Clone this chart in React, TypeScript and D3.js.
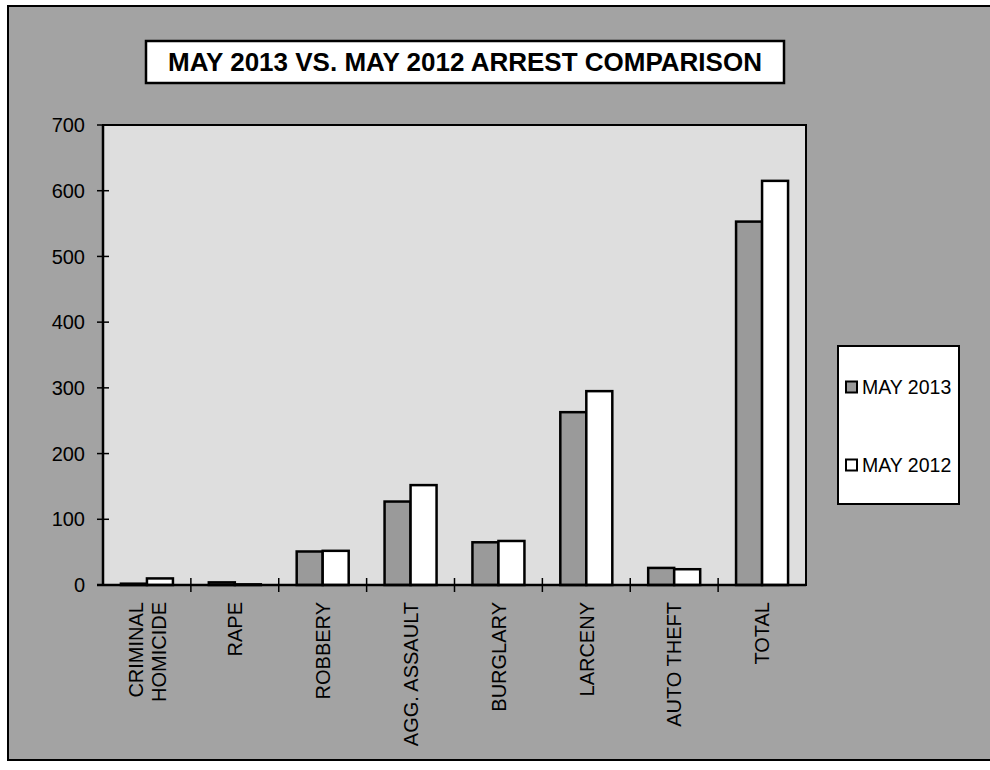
import React from "react";
import * as d3 from "d3";

const categories = ["CRIMINAL HOMICIDE", "RAPE", "ROBBERY", "AGG. ASSAULT", "BURGLARY", "LARCENY", "AUTO THEFT", "TOTAL"];
const may2013 = [2, 4, 51, 127, 65, 263, 26, 553];
const may2012 = [10, 1, 52, 152, 67, 295, 24, 615];
const seriesNames = ["MAY 2013", "MAY 2012"];
const yTicks = [0, 100, 200, 300, 400, 500, 600, 700];
const title = "MAY 2013 VS. MAY 2012 ARREST COMPARISON";

const FONT = "'Liberation Sans', Arial, sans-serif";
const OUTER_BG = "#a3a3a3";
const PLOT_BG = "#dedede";
const DARK = "#9a9a9a";

export default function App() {
  const left = 103, right = 806, top = 125, bottom = 585;
  const x = d3.scaleBand<string>().domain(categories).range([left, right]).padding(0);
  const y = d3.scaleLinear().domain([0, 700]).range([bottom, top]);
  const barW = 26;

  const labelLines = (c: string) => (c === "CRIMINAL HOMICIDE" ? ["CRIMINAL", "HOMICIDE"] : [c]);

  return (
    <svg width={990} height={770} style={{ position: "absolute", left: 0, top: 0, background: "#fff" }}>
      <rect x={8} y={6} width={985} height={754} fill={OUTER_BG} stroke="#000" strokeWidth={2} />
      {/* title */}
      <rect x={146} y={41} width={638} height={42} fill="#fff" stroke="#000" strokeWidth={2.5} />
      <text x={465} y={71} textAnchor="middle" fontFamily={FONT} fontWeight="bold" fontSize={26} fill="#000">
        {title}
      </text>
      {/* plot area */}
      <rect x={left} y={top} width={right - left} height={bottom - top} fill={PLOT_BG} stroke="#000" strokeWidth={2} />
      {/* bars */}
      {categories.map((c, i) => {
        const cx = (x(c) as number) + x.bandwidth() / 2;
        return (
          <g key={c}>
            <rect x={cx - barW} y={y(may2013[i])} width={barW} height={bottom - y(may2013[i])} fill={DARK} stroke="#000" strokeWidth={2.5} />
            <rect x={cx} y={y(may2012[i])} width={barW} height={bottom - y(may2012[i])} fill="#fff" stroke="#000" strokeWidth={2.5} />
          </g>
        );
      })}
      {/* axes */}
      <line x1={left} x2={left} y1={top} y2={bottom} stroke="#000" strokeWidth={2.5} />
      <line x1={left - 6} x2={right} y1={bottom} y2={bottom} stroke="#000" strokeWidth={2.5} />
      {yTicks.map((t) => (
        <g key={t}>
          <line x1={left - 6} x2={left + 6} y1={y(t)} y2={y(t)} stroke="#000" strokeWidth={1.5} />
          <text x={85} y={y(t)} dy="0.36em" textAnchor="end" fontFamily={FONT} fontSize={20} fill="#000">
            {t}
          </text>
        </g>
      ))}
      {categories.map((c, i) => {
        const bx = (x(c) as number) + x.bandwidth();
        return i < categories.length - 1 ? (
          <line key={"t" + c} x1={bx} x2={bx} y1={bottom - 7} y2={bottom + 7} stroke="#000" strokeWidth={1.5} />
        ) : null;
      })}
      {/* x labels */}
      {categories.map((c) => {
        const cx = (x(c) as number) + x.bandwidth() / 2;
        const lines = labelLines(c);
        const spacing = 23;
        return lines.map((ln, j) => {
          const lx = cx + (j - (lines.length - 1) / 2) * spacing;
          return (
            <text
              key={c + j}
              transform={`translate(${lx},602) rotate(-90)`}
              dy="0.36em"
              textAnchor="end"
              fontFamily={FONT}
              fontSize={20}
              fill="#000"
            >
              {ln}
            </text>
          );
        });
      })}
      {/* legend */}
      <rect x={838} y={346} width={121} height={158} fill="#fff" stroke="#000" strokeWidth={2} />
      {seriesNames.map((s, i) => {
        const cy = i === 0 ? 387 : 465;
        return (
          <g key={s}>
            <rect x={846} y={cy - 5.5} width={11} height={11} fill={i === 0 ? DARK : "#fff"} stroke="#000" strokeWidth={2} />
            <text x={862} y={cy} dy="0.36em" fontFamily={FONT} fontSize={19.5} fill="#000">
              {s}
            </text>
          </g>
        );
      })}
    </svg>
  );
}
